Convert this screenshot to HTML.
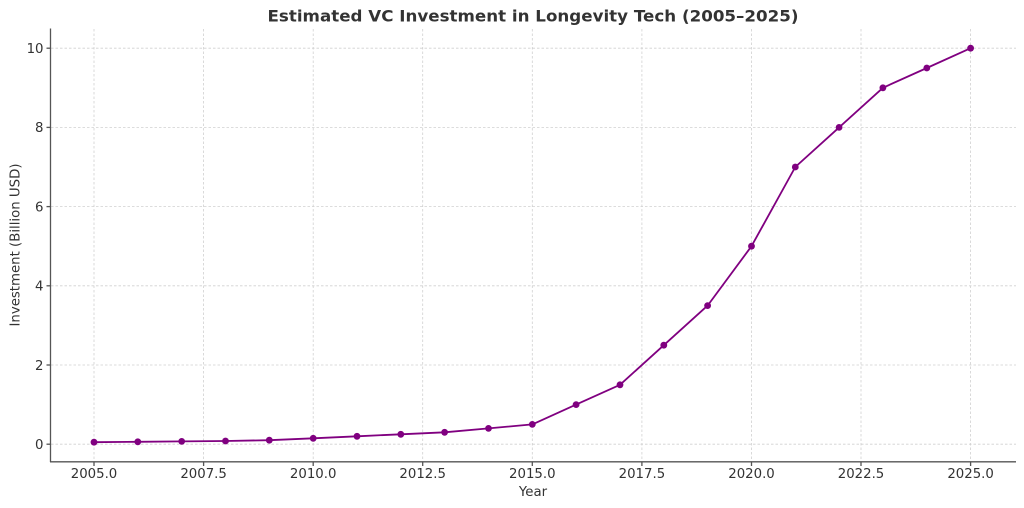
<!DOCTYPE html>
<html><head><meta charset="utf-8"><style>
html,body{margin:0;padding:0;background:#fff;}
svg{display:block;}
text{font-family:"DejaVu Sans","Liberation Sans",sans-serif;fill:#333;}
</style></head><body>
<svg width="1024" height="508" viewBox="0 0 1024 508" xmlns="http://www.w3.org/2000/svg">
<rect width="1024" height="508" fill="#fff"/>
<g stroke="#d0d0d0" stroke-width="0.8" stroke-dasharray="2.5,2">
<line x1="94" y1="29" x2="94" y2="462"/>
<line x1="203.6" y1="29" x2="203.6" y2="462"/>
<line x1="313.2" y1="29" x2="313.2" y2="462"/>
<line x1="422.7" y1="29" x2="422.7" y2="462"/>
<line x1="532.3" y1="29" x2="532.3" y2="462"/>
<line x1="641.9" y1="29" x2="641.9" y2="462"/>
<line x1="751.5" y1="29" x2="751.5" y2="462"/>
<line x1="861" y1="29" x2="861" y2="462"/>
<line x1="970.6" y1="29" x2="970.6" y2="462"/>
<line x1="51" y1="444.2" x2="1016" y2="444.2"/>
<line x1="51" y1="365" x2="1016" y2="365"/>
<line x1="51" y1="285.8" x2="1016" y2="285.8"/>
<line x1="51" y1="206.6" x2="1016" y2="206.6"/>
<line x1="51" y1="127.4" x2="1016" y2="127.4"/>
<line x1="51" y1="48.2" x2="1016" y2="48.2"/>
</g>
<g stroke="#555" stroke-width="1.3">
<line x1="50.5" y1="28.5" x2="50.5" y2="462"/>
<line x1="50" y1="461.8" x2="1016" y2="461.8"/>
<line x1="46.5" y1="444.2" x2="50.5" y2="444.2"/>
<line x1="46.5" y1="365" x2="50.5" y2="365"/>
<line x1="46.5" y1="285.8" x2="50.5" y2="285.8"/>
<line x1="46.5" y1="206.6" x2="50.5" y2="206.6"/>
<line x1="46.5" y1="127.4" x2="50.5" y2="127.4"/>
<line x1="46.5" y1="48.2" x2="50.5" y2="48.2"/>
<line x1="94" y1="462" x2="94" y2="466"/>
<line x1="203.6" y1="462" x2="203.6" y2="466"/>
<line x1="313.2" y1="462" x2="313.2" y2="466"/>
<line x1="422.7" y1="462" x2="422.7" y2="466"/>
<line x1="532.3" y1="462" x2="532.3" y2="466"/>
<line x1="641.9" y1="462" x2="641.9" y2="466"/>
<line x1="751.5" y1="462" x2="751.5" y2="466"/>
<line x1="861" y1="462" x2="861" y2="466"/>
<line x1="970.6" y1="462" x2="970.6" y2="466"/>
</g>
<g font-size="13.3" text-anchor="end">
<text x="43.5" y="449">0</text>
<text x="43.5" y="369.8">2</text>
<text x="43.5" y="290.6">4</text>
<text x="43.5" y="211.4">6</text>
<text x="43.5" y="132.2">8</text>
<text x="43.5" y="53">10</text>
</g>
<g font-size="13.3" text-anchor="middle">
<text x="94" y="478">2005.0</text>
<text x="203.6" y="478">2007.5</text>
<text x="313.2" y="478">2010.0</text>
<text x="422.7" y="478">2012.5</text>
<text x="532.3" y="478">2015.0</text>
<text x="641.9" y="478">2017.5</text>
<text x="751.5" y="478">2020.0</text>
<text x="861" y="478">2022.5</text>
<text x="970.6" y="478">2025.0</text>
<text x="533" y="496">Year</text>
<text x="0" y="0" transform="translate(19.5,245) rotate(-90)">Investment (Billion USD)</text>
</g>
<text x="533" y="21.5" font-size="16" font-weight="bold" text-anchor="middle" textLength="531" lengthAdjust="spacingAndGlyphs">Estimated VC Investment in Longevity Tech (2005–2025)</text>
<polyline fill="none" stroke="#800080" stroke-width="1.8" stroke-linejoin="round" points="94,442.2 137.8,441.8 181.7,441.4 225.5,441 269.3,440.2 313.2,438.3 357,436.3 400.8,434.3 444.6,432.3 488.5,428.4 532.3,424.4 576.1,404.6 620,384.8 663.8,345.2 707.6,305.6 751.5,246.2 795.3,167 839.1,127.4 882.9,87.8 926.8,68 970.6,48.2"/>
<g fill="#800080">
<circle cx="94" cy="442.2" r="3.4"/>
<circle cx="137.8" cy="441.8" r="3.4"/>
<circle cx="181.7" cy="441.4" r="3.4"/>
<circle cx="225.5" cy="441" r="3.4"/>
<circle cx="269.3" cy="440.2" r="3.4"/>
<circle cx="313.2" cy="438.3" r="3.4"/>
<circle cx="357" cy="436.3" r="3.4"/>
<circle cx="400.8" cy="434.3" r="3.4"/>
<circle cx="444.6" cy="432.3" r="3.4"/>
<circle cx="488.5" cy="428.4" r="3.4"/>
<circle cx="532.3" cy="424.4" r="3.4"/>
<circle cx="576.1" cy="404.6" r="3.4"/>
<circle cx="620" cy="384.8" r="3.4"/>
<circle cx="663.8" cy="345.2" r="3.4"/>
<circle cx="707.6" cy="305.6" r="3.4"/>
<circle cx="751.5" cy="246.2" r="3.4"/>
<circle cx="795.3" cy="167" r="3.4"/>
<circle cx="839.1" cy="127.4" r="3.4"/>
<circle cx="882.9" cy="87.8" r="3.4"/>
<circle cx="926.8" cy="68" r="3.4"/>
<circle cx="970.6" cy="48.2" r="3.4"/>
</g>
</svg>
</body></html>
